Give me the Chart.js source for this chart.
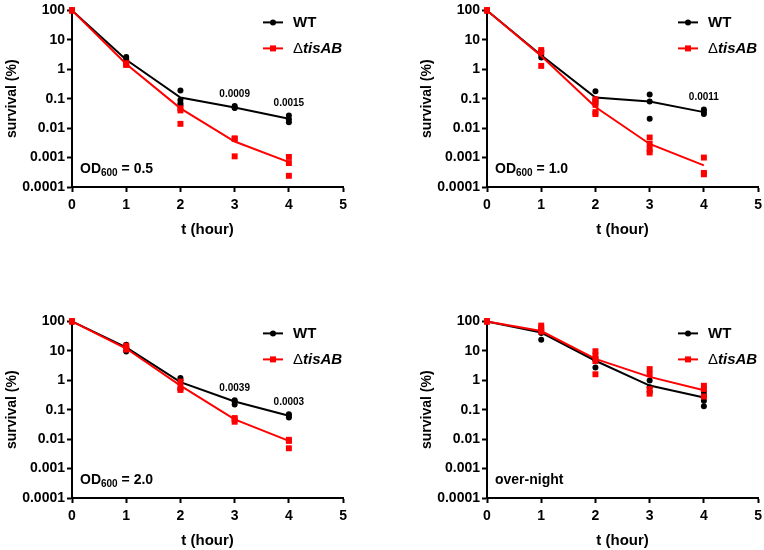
<!DOCTYPE html>
<html>
<head>
<meta charset="utf-8">
<script src="https://cdn.jsdelivr.net/npm/chart.js@4/dist/chart.umd.min.js"></script>
<style>
  html, body { margin: 0; padding: 0; background: #fff; overflow: hidden; }
  body { width: 764px; height: 550px; position: relative; }
  canvas { position: absolute; }
</style>
</head>
<body>
<canvas id="p1" width="352" height="245" style="left:0px;top:0px"></canvas>
<canvas id="p2" width="352" height="245" style="left:415px;top:0px"></canvas>
<canvas id="p3" width="352" height="245" style="left:0px;top:311px"></canvas>
<canvas id="p4" width="352" height="245" style="left:415px;top:311px"></canvas>
<script>
// shared axes
const TIMES = [0, 1, 2, 3, 4];
const X_TICKS = [0, 1, 2, 3, 4, 5];
const Y_TICKS = [0.0001, 0.001, 0.01, 0.1, 1, 10, 100];
const Y_TICK_LABELS = ['0.0001', '0.001', '0.01', '0.1', '1', '10', '100'];

// OD600 = 0.5
const wtMean05 = [100, 2.1, 0.11, 0.05, 0.021];
const tisMean05 = [100, 1.5, 0.047, 0.0035, 0.0007];
const wtRep05 = [[100, 100, 100], [2.6, 2.1, 1.8], [0.19, 0.09, 0.07, 0.06], [0.056, 0.05, 0.048], [0.027, 0.02, 0.016]];
const tisRep05 = [[100, 100, 100], [1.6, 1.5, 1.4], [0.047, 0.04, 0.014], [0.0043, 0.0045, 0.0011], [0.00105, 0.00065, 0.00024]];
const pvals05 = ['', '', '', '0.0009', '0.0015'];

// OD600 = 1.0
const wtMean10 = [100, 3.0, 0.11, 0.08, 0.035];
const tisMean10 = [100, 2.8, 0.052, 0.0029, 0.00054];
const wtRep10 = [[100, 100, 100], [4.2, 3.2, 2.5], [0.18, 0.095, 0.08, 0.066], [0.14, 0.08, 0.021], [0.043, 0.036, 0.03]];
const tisRep10 = [[100, 100, 100], [4.5, 3.8, 1.3], [0.095, 0.062, 0.035, 0.03], [0.0048, 0.0029, 0.0019, 0.0015], [0.001, 0.0003, 0.00027]];
const pvals10 = ['', '', '', '', '0.0011'];

// OD600 = 2.0
const wtMean20 = [100, 13, 0.86, 0.19, 0.062];
const tisMean20 = [100, 12, 0.66, 0.047, 0.0087];
const wtRep20 = [[100, 100, 100], [16, 13, 9.5], [1.2, 1.0, 0.49], [0.21, 0.19, 0.15], [0.07, 0.062, 0.054]];
const tisRep20 = [[100, 100, 100], [15, 12, 11], [0.9, 0.6, 0.47], [0.052, 0.046, 0.039], [0.0095, 0.0087, 0.0049]];
const pvals20 = ['', '', '', '0.0039', '0.0003'];

// over-night
const wtMeanON = [100, 42, 4.6, 0.66, 0.26];
const tisMeanON = [100, 47, 5.3, 1.3, 0.46];
const wtRepON = [[100, 100, 100], [51, 40, 24], [5.9, 4.8, 2.7], [0.98, 0.58, 0.4], [0.4, 0.3, 0.2, 0.13]];
const tisRepON = [[100, 100, 100], [72, 59, 45], [9.7, 7, 4.5, 1.6], [2.4, 1.6, 0.5, 0.35], [0.65, 0.5, 0.28]];
const pvalsON = ['', '', '', '', ''];

const FONT = '"Liberation Sans", Arial, sans-serif';
const RED = '#ff0000';
const BLACK = '#000000';

function toPoints(reps) {
    const pts = [];
    reps.forEach((vals, i) => vals.forEach(v => pts.push({ x: TIMES[i], y: v })));
    return pts;
}

// legend, p-values and panel label drawn inside the plot area
const extrasPlugin = {
    id: 'extras',
    afterDatasetsDraw(chart, args, opts) {
        const { ctx, chartArea: a, scales: { x, y } } = chart;
        ctx.save();
        ctx.textBaseline = 'middle';

        // legend
        const lx0 = a.left + 191, lx1 = a.left + 211, lmid = (lx0 + lx1) / 2;
        const rows = [{ y: a.top + 12, color: BLACK }, { y: a.top + 38, color: RED }];
        rows.forEach((r, i) => {
            ctx.strokeStyle = r.color;
            ctx.lineWidth = 2;
            ctx.beginPath(); ctx.moveTo(lx0, r.y); ctx.lineTo(lx1, r.y); ctx.stroke();
            ctx.fillStyle = r.color;
            if (i === 0) { ctx.beginPath(); ctx.arc(lmid, r.y, 3, 0, Math.PI * 2); ctx.fill(); }
            else ctx.fillRect(lmid - 3, r.y - 3, 6, 6);
        });
        ctx.fillStyle = BLACK;
        ctx.textAlign = 'left';
        ctx.font = 'bold 15px ' + FONT;
        ctx.fillText('WT', a.left + 221, rows[0].y);
        ctx.font = '15px ' + FONT;
        ctx.fillText('\u0394', a.left + 221, rows[1].y);
        const dw = ctx.measureText('\u0394').width;
        ctx.font = 'italic bold 15px ' + FONT;
        ctx.fillText('tisAB', a.left + 221 + dw, rows[1].y);

        // p-values above the highest replicate
        ctx.font = 'bold 10px ' + FONT;
        ctx.textAlign = 'center';
        opts.pvals.forEach((txt, i) => {
            if (!txt) return;
            const top = Math.max(...opts.wtRep[i], ...opts.tisRep[i]);
            ctx.fillText(txt, x.getPixelForValue(TIMES[i]), y.getPixelForValue(top) - 12);
        });

        // panel label
        ctx.textAlign = 'left';
        const ly = a.bottom - 18;
        let px = a.left + 8;
        ctx.font = 'bold 14px ' + FONT;
        ctx.fillText(opts.label.main, px, ly);
        if (opts.label.sub) {
            px += ctx.measureText(opts.label.main).width;
            ctx.font = 'bold 10px ' + FONT;
            ctx.fillText(opts.label.sub, px, ly + 4);
            px += ctx.measureText(opts.label.sub).width;
            ctx.font = 'bold 14px ' + FONT;
            ctx.fillText(opts.label.rest, px, ly);
        }
        ctx.restore();
    }
};

function axisGrid() {
    return { display: true, drawOnChartArea: false, drawTicks: true, tickLength: 5, tickWidth: 2, color: BLACK };
}

function makePanel(id, wtMean, tisMean, wtRep, tisRep, pvals, label) {
    new Chart(document.getElementById(id), {
        type: 'scatter',
        data: {
            datasets: [
                {
                    label: '\u0394tisAB mean', type: 'line',
                    data: TIMES.map((t, i) => ({ x: t, y: tisMean[i] })),
                    borderColor: RED, borderWidth: 2, pointRadius: 0, tension: 0, clip: false
                },
                {
                    label: '\u0394tisAB', data: toPoints(tisRep), showLine: false,
                    pointStyle: 'rect', pointRadius: 4.2, backgroundColor: RED, borderWidth: 0, clip: false
                },
                {
                    label: 'WT mean', type: 'line',
                    data: TIMES.map((t, i) => ({ x: t, y: wtMean[i] })),
                    borderColor: BLACK, borderWidth: 2, pointRadius: 0, tension: 0, clip: false
                },
                {
                    label: 'WT', data: toPoints(wtRep), showLine: false,
                    pointStyle: 'circle', pointRadius: 3, backgroundColor: BLACK, borderWidth: 0, clip: false
                }
            ]
        },
        options: {
            responsive: false,
            animation: false,
            layout: { padding: { left: 0, right: 5, top: 8, bottom: 4 } },
            plugins: {
                legend: { display: false },
                tooltip: { enabled: false },
                extras: { pvals, wtRep, tisRep, label }
            },
            scales: {
                x: {
                    type: 'linear', min: 0, max: 5,
                    afterFit: s => { s.height = 54; },
                    afterBuildTicks: s => { s.ticks = X_TICKS.map(v => ({ value: v })); },
                    ticks: { color: BLACK, font: { family: FONT, size: 14, weight: 'bold' }, padding: 5 },
                    grid: axisGrid(),
                    border: { display: true, color: BLACK, width: 2 },
                    title: { display: true, text: 't (hour)', color: BLACK, font: { family: FONT, size: 15, weight: 'bold' }, padding: { top: 0, bottom: 2 } }
                },
                y: {
                    type: 'logarithmic', min: 0.0001, max: 100,
                    afterFit: s => { s.width = 72; },
                    afterBuildTicks: s => { s.ticks = Y_TICKS.map(v => ({ value: v })); },
                    ticks: {
                        color: BLACK, font: { family: FONT, size: 14, weight: 'bold' }, padding: 2, autoSkip: false,
                        callback: v => Y_TICK_LABELS[Y_TICKS.indexOf(v)]
                    },
                    grid: axisGrid(),
                    border: { display: true, color: BLACK, width: 2 },
                    title: { display: true, text: 'survival (%)', color: BLACK, font: { family: FONT, size: 14, weight: 'bold' }, padding: { top: 4, bottom: 0 } }
                }
            }
        },
        plugins: [extrasPlugin]
    });
}

makePanel('p1', wtMean05, tisMean05, wtRep05, tisRep05, pvals05, { main: 'OD', sub: '600', rest: ' = 0.5' });
makePanel('p2', wtMean10, tisMean10, wtRep10, tisRep10, pvals10, { main: 'OD', sub: '600', rest: ' = 1.0' });
makePanel('p3', wtMean20, tisMean20, wtRep20, tisRep20, pvals20, { main: 'OD', sub: '600', rest: ' = 2.0' });
makePanel('p4', wtMeanON, tisMeanON, wtRepON, tisRepON, pvalsON, { main: 'over-night' });
</script>
</body>
</html>
